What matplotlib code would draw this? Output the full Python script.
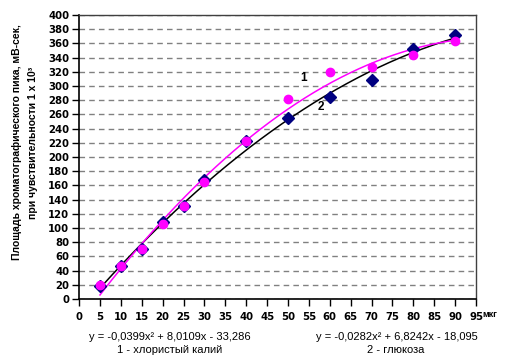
import numpy as np
import matplotlib.pyplot as plt

plt.rcParams['font.family'] = ['Liberation Sans', 'DejaVu Sans']

# data
x_vals = [5, 10, 15, 20, 25, 30, 40, 50, 60, 70, 80, 90]
kcl = [20, 46, 71, 106, 131, 165, 222, 282, 320, 327, 343, 364]        # 1 - хлористый калий
glucose = [19, 46, 71, 108, 131, 168, 222, 255, 284, 309, 352, 372]    # 2 - глюкоза

# trend line coefficients shown on the chart
coef_kcl = [-0.0399, 8.0109, -33.286]
coef_glu = [-0.0282, 6.8242, -18.095]

x_ticks = list(range(0, 100, 5))
y_ticks = list(range(0, 420, 20))

fig = plt.figure(figsize=(5.07, 3.56), dpi=100)
ax = fig.add_axes([0.156, 0.160, 0.783, 0.798])

xs = np.linspace(5, 90, 200)
ax.plot(xs, np.polyval(coef_glu, xs), color='black', lw=1.1, zorder=3)
ax.plot(xs, np.polyval(coef_kcl, xs), color='#ff00ff', lw=1.1, zorder=3)
ax.plot(x_vals, glucose, 'D', color='#000080', ms=6.5, mec='#000080', zorder=4, clip_on=False)
ax.plot(x_vals, kcl, 'o', color='#ff00ff', ms=6, mec='#ff00ff', zorder=5, clip_on=False)

ax.text(53.6, 311, '1', fontsize=8.5, fontweight='bold', ha='center', va='center')
ax.text(57.8, 271, '2', fontsize=8.5, fontweight='bold', ha='center', va='center')

ax.set_xlim(0, 95)
ax.set_ylim(0, 400)
ax.set_xticks(x_ticks)
ax.set_yticks(y_ticks)
ax.tick_params(axis='both', direction='out', length=5, width=1, pad=2)
ax.tick_params(axis='x', pad=4)
for lab in ax.get_xticklabels() + ax.get_yticklabels():
    lab.set_fontweight('bold')
    lab.set_family('DejaVu Sans')
    lab.set_fontsize(7.3)

ax.yaxis.grid(True, color='#808080', linestyle=(0, (4, 3)), lw=1)
ax.set_axisbelow(True)
for s in ['left', 'bottom']:
    ax.spines[s].set_color('black')
    ax.spines[s].set_linewidth(1.2)
for s in ['top', 'right']:
    ax.spines[s].set_color('#404040')
    ax.spines[s].set_linewidth(1)

fig.text(0.966, 0.117, 'мкг', fontsize=6.5, fontweight='bold', ha='center', va='center')

fig.text(0.05, 0.60, 'Площадь хроматографического пика, мВ-сек,\nпри чувствительности 1 х 10³',
         rotation=90, fontsize=7.5, fontweight='bold', ha='center', va='center',
         multialignment='center', linespacing=1.75)

fig.text(0.335, 0.054, 'y = -0,0399x² + 8,0109x - 33,286', fontsize=8, ha='center', va='center')
fig.text(0.335, 0.016, '1 - хлористый калий', fontsize=8, ha='center', va='center')
fig.text(0.783, 0.054, 'y = -0,0282x² + 6,8242x - 18,095', fontsize=8, ha='center', va='center')
fig.text(0.781, 0.016, '2 - глюкоза', fontsize=8, ha='center', va='center')

fig.savefig('out.png', dpi=100)
